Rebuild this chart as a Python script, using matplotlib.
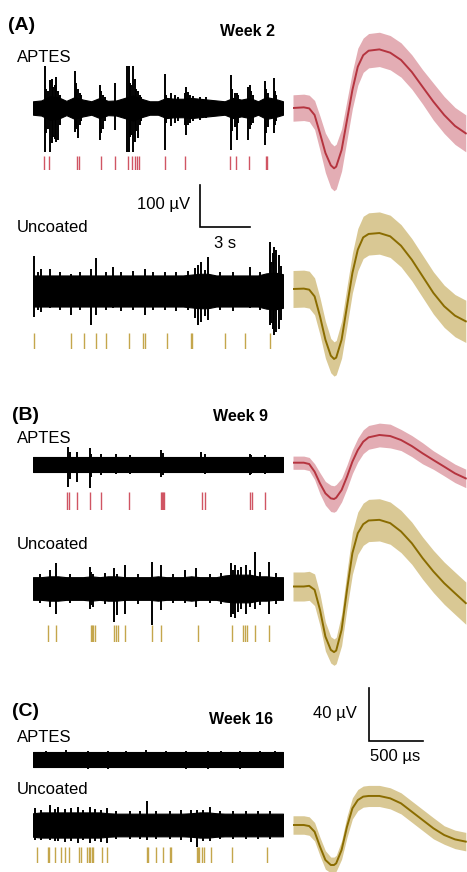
import matplotlib
matplotlib.use("Agg")
import matplotlib.pyplot as plt
import numpy as np

plt.rcParams['font.family'] = ['Liberation Sans', 'DejaVu Sans']

W, H = 467, 872
fig = plt.figure(figsize=(W / 100, H / 100), dpi=100)

# ---------------- data ----------------
# envelope sample times (s) for raw traces
env_t = np.arange(0, 15.01, 0.5)

# A: Week 2
a_aptes_env = [16, 18, 28, 26, 17, 26, 20, 16, 24, 17, 18, 24, 30, 22, 16, 16,
               24, 22, 22, 24, 22, 20, 18, 16, 24, 20, 24, 16, 26, 22, 16]
a_aptes_spk_t = [0.7, 0.8, 0.9, 1.0, 1.14, 1.2, 1.3, 1.4, 1.5, 1.6,
                 2.5, 2.55, 2.6, 2.7, 2.8, 2.9,
                 4.0, 4.1, 4.2, 4.3, 4.94,
                 5.62, 5.74, 5.8, 5.9, 6.02, 6.14, 6.2, 6.3, 6.4, 6.5,
                 7.9, 8.0, 8.3, 8.5, 8.7, 9.1, 9.2, 9.3, 9.4, 9.6, 10.0, 10.4,
                 11.9, 11.95, 12.1, 12.24, 12.3, 12.9, 13.04, 13.1, 13.2,
                 13.94, 14.0, 14.1, 14.44, 14.5, 14.6]
a_aptes_spk_up = [100, 45, 40, 67, 70, 50, 55, 74, 40, 30,
                  89, 60, 50, 45, 35, 30,
                  55, 40, 30, 25, 59,
                  100, 100, 60, 55, 100, 70, 45, 40, 30, 25,
                  81, 30, 35, 30, 25, 35, 51, 39, 30, 28, 25, 25,
                  79, 45, 35, 35, 30, 51, 55, 40, 30,
                  65, 45, 35, 71, 40, 30]
a_aptes_spk_dn = [-104, -60, -50, -104, -83, -70, -75, -80, -76, -40,
                  -56, -45, -50, -72, -40, -30,
                  -76, -60, -50, -30, -52,
                  -104, -104, -70, -65, -104, -80, -55, -72, -40, -30,
                  -100, -35, -44, -35, -30, -40, -64, -40, -35, -30, -28, -25,
                  -100, -55, -45, -76, -35, -76, -50, -40, -35,
                  -88, -60, -45, -60, -40, -30]
a_aptes_raster = [0.66, 0.96, 2.66, 2.74, 4.06, 4.94, 5.7, 5.94, 6.14, 6.26, 6.36, 7.9, 9.14,
                  11.84, 12.2, 12.94, 13.96, 14.02]

a_unc_env = [37, 37, 37, 37, 37, 37, 37, 37, 37, 37, 37, 37, 37, 37, 37, 37,
             37, 37, 37, 39, 41, 41, 37, 37, 37, 37, 37, 37, 42, 44, 40]
a_unc_spk_t = [0.05, 0.3, 0.46, 1.0, 1.6, 2.3, 2.8, 3.5, 3.8, 4.4, 4.8, 5.3, 6.0, 6.7, 7.2,
               7.9, 8.6, 9.3, 9.7, 9.9, 10.1, 10.3, 10.5, 11.2, 12.0, 13.0, 13.6,
               14.2, 14.3, 14.4, 14.46, 14.6, 14.74, 14.85]
a_unc_spk_up = [83, 45, 53, 53, 45, 40, 45, 53, 79, 45, 57, 45, 48, 53, 45,
                45, 45, 48, 55, 61, 69, 50, 81, 45, 45, 57, 45,
                117, 70, 90, 105, 97, 85, 60]
a_unc_spk_dn = [-62, -45, -50, -40, -45, -58, -45, -82, -58, -45, -40, -48, -45, -58, -45,
                -45, -48, -45, -65, -82, -74, -60, -70, -45, -48, -40, -45,
                -82, -75, -90, -105, -98, -90, -70]
a_unc_raster = [0.06, 2.3, 3.06, 3.8, 4.36, 5.74, 6.6, 6.7, 8.06, 9.5, 9.54, 11.54, 12.74, 14.2]

# B: Week 9
b_aptes_env = [17] * 31
b_aptes_spk_t = [2.1, 2.2, 2.64, 3.4, 3.5, 4.1, 5.0, 5.8, 7.7, 7.8, 10.1, 10.3, 13.0, 13.1, 13.9]
b_aptes_spk_up = [42, 30, 30, 40, 25, 24, 26, 22, 34, 28, 30, 24, 26, 22, 22]
b_aptes_spk_dn = [-53, -35, -41, -57, -30, -24, -22, -22, -29, -26, -21, -22, -25, -22, -22]
b_aptes_raster = [2.06, 2.14, 2.64, 3.4, 4.1, 5.74, 7.66, 7.74, 7.82, 7.86, 10.14, 10.3,
                  13.0, 13.14, 13.9]

b_unc_env = [27, 27, 29, 29, 27, 27, 27, 29, 27, 29, 29, 27, 27, 27, 27, 29,
             27, 27, 27, 29, 27, 27, 27, 31, 33, 33, 33, 29, 29, 27, 27]
b_unc_spk_t = [0.4, 1.0, 1.4, 2.2, 3.4, 3.5, 3.6, 4.3, 4.86, 5.06, 5.5, 6.3, 7.14, 7.7, 8.4,
               9.14, 9.8, 10.6, 11.3, 11.9, 12.0, 12.1, 12.3, 12.5, 12.8, 13.0, 13.3, 13.6,
               14.14, 14.6]
b_unc_spk_up = [35, 44, 60, 35, 52, 40, 35, 38, 48, 35, 56, 35, 63, 56, 35,
                44, 48, 35, 38, 60, 45, 56, 45, 52, 56, 45, 87, 40, 63, 38]
b_unc_spk_dn = [-35, -44, -60, -35, -48, -40, -44, -38, -79, -63, -60, -38, -87, -52, -35,
                -35, -44, -35, -38, -67, -60, -71, -55, -48, -60, -45, -48, -40, -60, -38]
b_unc_raster = [0.9, 1.4, 3.46, 3.54, 3.62, 3.7, 4.86, 5.0, 5.1, 5.5, 7.14, 7.7, 9.9,
                11.96, 12.6, 12.74, 12.86, 13.3, 14.14]

# C: Week 16
c_aptes_env = [17] * 31
c_aptes_spk_t = [0.8, 2.0, 3.3, 4.5, 5.6, 6.8, 8.0, 9.2, 10.5, 11.3, 12.4, 13.6, 14.5]
c_aptes_spk_up = [21, 22, 20, 21, 20, 22, 20, 20, 21, 20, 21, 20, 21]
c_aptes_spk_dn = [-20, -21, -22, -22, -20, -20, -21, -22, -22, -21, -22, -20, -21]

c_unc_env = [28, 30, 30, 30, 30, 30, 30, 30, 30, 28, 27, 27, 27, 27, 27, 27,
             27, 27, 27, 28, 30, 30, 28, 27, 27, 27, 27, 27, 27, 27, 27]
c_unc_spk_t = [0.1, 0.5, 1.02, 1.3, 1.52, 1.9, 2.3, 2.72, 3.0, 3.42, 3.7, 4.1, 4.42,
               5.0, 5.8, 6.4, 6.82, 7.4, 8.2, 8.9, 9.5, 9.82, 10.2, 10.62, 11.2, 12.0,
               12.8, 13.5, 14.2]
c_unc_spk_up = [40, 35, 48, 38, 44, 38, 40, 44, 36, 44, 38, 35, 40,
                34, 34, 34, 56, 34, 34, 36, 36, 35, 36, 44, 34, 34,
                34, 34, 34]
c_unc_spk_dn = [-35, -36, -35, -38, -38, -40, -38, -44, -36, -44, -38, -40, -44,
                -34, -34, -34, -35, -34, -34, -36, -40, -52, -38, -38, -34, -34,
                -34, -34, -34]
c_unc_raster = [0.26, 0.88, 0.98, 1.32, 1.66, 1.92, 2.16, 2.76, 2.86, 3.26, 3.34, 3.42,
                3.52, 3.62, 4.14, 4.46, 6.82, 6.9, 7.36, 7.82, 8.22, 8.3, 9.82, 9.9,
                9.98, 10.12, 10.26, 10.66, 11.96, 14.06]

# mean spike waveforms (ms, µV)
wf_t = [0, 0.1, 0.15, 0.2, 0.25, 0.3, 0.35, 0.38, 0.4, 0.45, 0.5, 0.55, 0.6, 0.65,
        0.7, 0.8, 0.9, 1.0, 1.1, 1.2, 1.3, 1.4, 1.5, 1.6]
a_aptes_wf = [0, 0.5, -0.3, -5.3, -19.2, -34, -43.4, -45.7, -44.4, -31.8, -9.1, 13.6,
              31.3, 40, 43.4, 44.4, 41.9, 36.4, 27.3, 16, 4.8, -5.3, -13.6, -19.2]
a_aptes_sd = [10, 10, 10, 11, 13, 15, 17, 17, 17, 16, 15, 14, 14, 13, 13, 13, 13, 13,
              13, 13, 14, 14, 14, 14]
a_unc_wf = [0, 0.3, -0.5, -5.6, -20.7, -38.4, -50.5, -53, -52, -38.4, -13.1, 12.1,
            29.8, 39.1, 41.7, 42.4, 39.9, 32.8, 22.2, 9.6, -3, -13.1, -20.2, -24.5]
a_unc_sd = [14, 14, 14, 14, 14, 14, 13, 13, 13, 14, 15, 15, 16, 16, 16, 16, 16, 16,
            16, 16, 16, 16, 16, 16]
b_aptes_wf = [0, 0, -1, -6.8, -15.7, -23.2, -27, -27.5, -26.5, -20.7, -10.6, 0.8,
              9.6, 15.9, 19.2, 21, 20.2, 17.2, 12.6, 7.1, 2, -3, -8.1, -11.9]
b_aptes_sd = [5, 5, 5, 6, 8, 9, 10, 10, 10, 9, 9, 9, 9, 9, 9, 9, 9, 8, 8, 8, 7, 7, 7, 7]
b_unc_wf = [0, 0, 0.5, -2.5, -17.7, -37.9, -48, -49.7, -48.5, -32.8, -2.5, 25.3,
            40.4, 47.2, 50, 50.5, 48, 41.7, 32.8, 21.5, 11.4, 2.5, -5.1, -12.6]
b_unc_sd = [11, 11, 11, 12, 12, 11, 10, 10, 10, 12, 14, 16, 16, 16, 16, 16, 16, 16,
            16, 16, 16, 16, 16, 16]
c_unc_wf = [0, 0, -0.8, -5.1, -16.4, -26.5, -30.3, -30.3, -29, -18.9, -1.3, 12.6,
            18.9, 21.5, 22, 22, 20.2, 16.4, 10.1, 3.8, -2.5, -7.6, -10.9, -12.6]
c_unc_sd = [7, 7, 7, 7, 7, 7, 6, 6, 6, 7, 8, 8, 8, 8, 8, 8, 8, 8, 8, 8, 8, 7, 7, 7]

# ---------------- style ----------------
RED_LINE, RED_BAND, RED_RAST = '#b5343f', '#e3adb4', '#d05563'
GOLD_LINE, GOLD_BAND, GOLD_RAST = '#8a6c00', '#d9c894', '#c4a64c'

TRACE_PX_PER_UV = 0.42
WF_PX_PER_UV = 1.32
TR_LEFT, TR_W = 33, 250
WF_LEFT, WF_W = 293, 174


def ax_px(left, top, width, height):
    ax = fig.add_axes([left / W, 1 - (top + height) / H, width / W, height / H])
    ax.set_axis_off()
    return ax


def trace_ax(yc):
    ax = ax_px(TR_LEFT, yc - 60, TR_W, 120)
    lim = 60 / TRACE_PX_PER_UV
    ax.set_xlim(0, 15)
    ax.set_ylim(-lim, lim)
    return ax


def wf_ax(yc):
    ax = ax_px(WF_LEFT, yc - 90, WF_W, 180)
    lim = 90 / WF_PX_PER_UV
    ax.set_xlim(0, WF_W / 108)
    ax.set_ylim(-lim, lim)
    return ax


def draw_trace(yc, env, st, su, sd):
    ax = trace_ax(yc)
    e = np.array(env, float)
    ax.fill_between(env_t, -e, e, color='black', lw=0.8, edgecolor='black')
    ax.vlines(st, sd, su, color='black', lw=1.4)


def draw_raster(top, bottom, times, color):
    ax = ax_px(TR_LEFT, top, TR_W, bottom - top)
    ax.set_xlim(0, 15)
    ax.set_ylim(0, 1)
    ax.vlines(times, 0, 1, color=color, lw=1.0)


def draw_wf(yc, mean, sd, line, band):
    ax = wf_ax(yc)
    m = np.array(mean)
    s = np.array(sd)
    ax.fill_between(wf_t, m - s, m + s, color=band, lw=0)
    ax.plot(wf_t, m, color=line, lw=1.4)


def ftext(x, y, s, **kw):
    fig.text(x / W, 1 - y / H, s, **kw)


# ---------------- panel A ----------------
draw_trace(108, a_aptes_env, a_aptes_spk_t, a_aptes_spk_up, a_aptes_spk_dn)
draw_raster(156, 170, a_aptes_raster, RED_RAST)
draw_trace(291, a_unc_env, a_unc_spk_t, a_unc_spk_up, a_unc_spk_dn)
draw_raster(333, 349, a_unc_raster, GOLD_RAST)
draw_wf(108, a_aptes_wf, a_aptes_sd, RED_LINE, RED_BAND)
draw_wf(289, a_unc_wf, a_unc_sd, GOLD_LINE, GOLD_BAND)

# ---------------- panel B ----------------
draw_trace(464.5, b_aptes_env, b_aptes_spk_t, b_aptes_spk_up, b_aptes_spk_dn)
draw_raster(492, 510, b_aptes_raster, RED_RAST)
draw_trace(588.5, b_unc_env, b_unc_spk_t, b_unc_spk_up, b_unc_spk_dn)
draw_raster(625, 642, b_unc_raster, GOLD_RAST)
draw_wf(462.7, b_aptes_wf, b_aptes_sd, RED_LINE, RED_BAND)
draw_wf(586.5, b_unc_wf, b_unc_sd, GOLD_LINE, GOLD_BAND)

# ---------------- panel C ----------------
draw_trace(759.5, c_aptes_env, c_aptes_spk_t, c_aptes_spk_up, c_aptes_spk_dn)
draw_trace(825, c_unc_env, c_unc_spk_t, c_unc_spk_up, c_unc_spk_dn)
draw_raster(847, 863, c_unc_raster, GOLD_RAST)
draw_wf(825, c_unc_wf, c_unc_sd, GOLD_LINE, GOLD_BAND)

# ---------------- scale bars ----------------
sb = trace_ax(206)
sb.plot([10, 10, 13], [50, -50, -50], color='black', lw=1.2, solid_joinstyle='miter')
sb.text(9.45, 3, '100 µV', ha='right', va='center', fontsize=12)
sb.text(11.5, -90, '3 s', ha='center', va='center', fontsize=12)

sw = wf_ax(714.5)
sw.plot([0.704, 0.704, 1.204], [20, -20, -20], color='black', lw=1.2, solid_joinstyle='miter')
sw.text(0.59, 1, '40 µV', ha='right', va='center', fontsize=12)
sw.text(0.944, -32, '500 µs', ha='center', va='center', fontsize=12)

# ---------------- labels ----------------
for lab, x, y in [('(A)', 8, 26), ('(B)', 12, 415), ('(C)', 12, 711)]:
    ftext(x, y, lab, fontsize=14, fontweight='bold', ha='left', va='center')
for lab, x, y in [('Week 2', 275, 32), ('Week 9', 268, 416), ('Week 16', 273, 719)]:
    ftext(x, y, lab, fontsize=11.5, fontweight='bold', ha='right', va='center')
for lab, y in [('APTES', 57), ('Uncoated', 228), ('APTES', 438), ('Uncoated', 544),
               ('APTES', 737), ('Uncoated', 789)]:
    ftext(17, y, lab, fontsize=12, ha='left', va='center')

fig.savefig('out.png', dpi=100, facecolor='white')
